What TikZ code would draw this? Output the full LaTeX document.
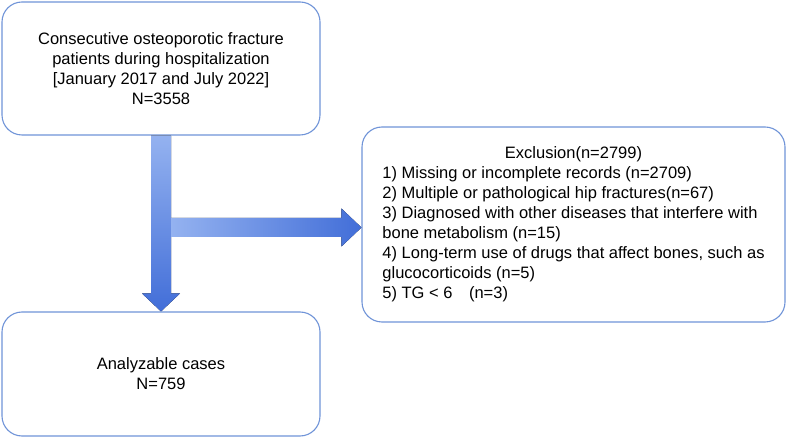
\documentclass[tikz,border=0pt]{standalone}
\usepackage{fontspec}
\setmainfont{Liberation Sans}
\usetikzlibrary{calc}
\definecolor{boxline}{RGB}{112,148,216}
\definecolor{arrowlight}{RGB}{148,178,240}
\definecolor{arrowdark}{RGB}{66,110,216}
\tikzset{
  fbox/.style={draw=boxline, line width=1.1pt, rounded corners=20pt, fill=white,
    font=\fontsize{16.5}{20}\selectfont, align=center},
}
\begin{document}
\begin{tikzpicture}[x=1pt,y=1pt]
\useasboundingbox (0,0) rectangle (787,439);
\node[fbox, minimum width=318pt, minimum height=133pt] (top) at (161,370.5)
  {Consecutive osteoporotic fracture\\patients during hospitalization\\{[}January 2017 and July 2022{]}\\N=3558};
\node[fbox, minimum width=318pt, minimum height=124pt] (bot) at (161,65)
  {Analyzable cases\\N=759};
\node[fbox, minimum width=423pt, minimum height=195pt] (rb) at (573.5,214.5)
  {\begin{tabular}{@{}l@{}}
   \multicolumn{1}{@{}c@{}}{Exclusion(n=2799)}\\
   1) Missing or incomplete records (n=2709)\\
   2) Multiple or pathological hip fractures(n=67)\\
   3) Diagnosed with other diseases that interfere with\\
   bone metabolism (n=15)\\
   4) Long-term use of drugs that affect bones, such as\\
   glucocorticoids (n=5)\\
   5) TG < 6\quad(n=3)
   \end{tabular}};
% vertical block arrow
\path (top.south) coordinate (vA) (bot.north) coordinate (vB);
\fill[top color=arrowlight, bottom color=arrowdark]
  ($(vA)+(-10,0)$) -- ($(vA)+(10,0)$) -- ($(vB)+(10,18)$) -- ($(vB)+(19,18)$)
  -- (vB) -- ($(vB)+(-19,18)$) -- ($(vB)+(-10,18)$) -- cycle;
% horizontal block arrow
\coordinate (hT) at ($(rb.west)+(0,-3)$);
\coordinate (hS) at ($(vA |- hT)+(10,0)$);
\fill[left color=arrowlight, right color=arrowdark]
  ($(hS)+(0,9.5)$) -- ($(hT)+(-20,9.5)$) -- ($(hT)+(-20,19)$) -- (hT)
  -- ($(hT)+(-20,-19)$) -- ($(hT)+(-20,-9.5)$) -- ($(hS)+(0,-9.5)$) -- cycle;
\end{tikzpicture}
\end{document}
